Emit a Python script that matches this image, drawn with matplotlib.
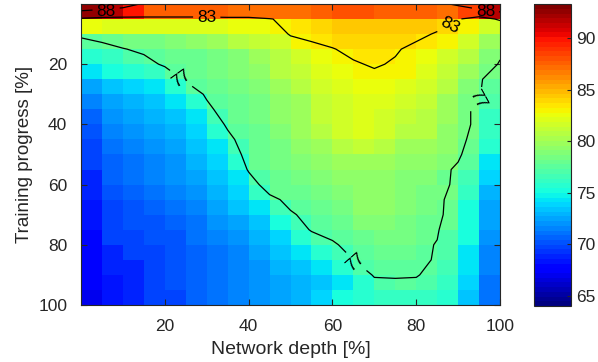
import numpy as np
import matplotlib
matplotlib.use("Agg")
import matplotlib.pyplot as plt

plt.rcParams["font.family"] = ["Liberation Sans", "DejaVu Sans"]

# grid vertices
depth = np.arange(0, 101, 5)      # network depth [%]
progress = np.arange(0, 101, 5)   # training progress [%]

# accuracy, one list per training-progress row (depth 0..100)
row_00 = [92.5, 91.5, 90, 87.5, 87.5, 87.5, 87.5, 87, 87, 87, 87, 87.5, 87.9, 87.9, 87.5, 87.5, 87.5, 87.2, 88.6, 91.5, 93]
row_05 = [82.5, 82, 82, 82.3, 82.3, 82.3, 82.3, 82.5, 82.5, 82.9, 83.5, 84, 84.5, 84.5, 84.5, 84.5, 84.5, 84, 83.2, 81.5, 83.5]
row_10 = [77.5, 78, 78.5, 78.5, 79, 79.5, 80, 80.5, 81, 81.5, 83.2, 83.5, 84, 84, 84, 84, 83.5, 82.8, 81.5, 80, 78.5]
row_15 = [75.5, 76.2, 76.9, 77.4, 77.8, 78, 78.5, 79, 80, 80.5, 81.5, 82.5, 82.9, 83.5, 83.5, 83.2, 82.5, 81.5, 80.5, 79, 77.5]
row_20 = [74.5, 75, 75.5, 76.3, 77.3, 78, 78.5, 79, 79.5, 80.5, 81, 82, 82.5, 82.8, 83.2, 82.8, 82, 81, 80, 78.5, 76.8]
row_25 = [72.5, 73.5, 74, 74.5, 75.5, 77.3, 78, 78.5, 79, 80, 80.5, 81.5, 82, 82.5, 82.5, 82, 81.5, 80.5, 79, 77.3, 75.5]
row_30 = [71.5, 72.5, 73, 73.5, 74.5, 75.5, 77.3, 78, 78.5, 79.5, 80, 81, 81.5, 82, 82, 81.5, 81, 80, 78.5, 77.2, 74.5]
row_35 = [70.5, 72, 72.5, 73, 73.5, 74.5, 76.5, 78, 78.5, 79.5, 80, 81, 81.5, 82, 81.5, 81, 80.5, 80, 78.5, 76, 74]
row_40 = [70, 71.5, 72, 72.5, 73, 74, 75.5, 77.3, 78, 79, 80, 80.5, 81.5, 82, 81.5, 80.5, 80.5, 79.5, 78.5, 76, 73.5]
row_45 = [69.5, 71, 71.5, 72, 72.5, 73.5, 74.5, 76.5, 78, 78.5, 79.5, 80, 80.5, 81, 80.5, 80, 80, 79.5, 78, 75.5, 73]
row_50 = [69.5, 70.5, 71, 71.5, 72, 73, 74, 75.5, 77.8, 78.5, 79, 79.5, 80, 80, 80, 79.5, 79.5, 79, 77.5, 74.5, 72.5]
row_55 = [69, 70.5, 71, 71.5, 72, 72.5, 73.5, 74.5, 77.2, 78, 78.5, 79, 79.5, 79.5, 79.5, 79, 79, 78, 76.5, 74, 72]
row_60 = [69, 70, 70.5, 71, 71.5, 72, 73, 74, 76, 78, 78, 78.5, 79, 79.5, 79.5, 79, 78.5, 78.5, 76, 73, 71]
row_65 = [68.5, 69.5, 70, 70.5, 71, 71.5, 72.5, 73.5, 74.5, 76.5, 77.5, 78, 78.5, 79.5, 79.5, 79, 78.5, 78, 75, 72.5, 70.5]
row_70 = [68.5, 69.5, 70, 70, 70.5, 71, 72, 72.5, 73.5, 75, 76.8, 77.5, 78, 79, 79, 78.5, 78, 77.8, 75, 72.5, 70]
row_75 = [68, 69.5, 69.5, 70, 70, 71, 71.5, 72, 73, 74, 75.5, 77.2, 77.5, 78, 78.5, 78.5, 78, 77.2, 75, 72, 69.5]
row_80 = [68, 69, 69.5, 69.5, 70, 70.5, 71, 71.5, 72.5, 73.5, 74.5, 75.5, 76.8, 77.5, 78, 78, 77.5, 76.9, 74.5, 71.5, 69]
row_85 = [67.5, 69, 69, 69.5, 70, 70.5, 71, 71.5, 72, 73, 73.5, 74.5, 75.5, 77, 77.5, 77.5, 77.5, 76.8, 74.5, 71.5, 68.5]
row_90 = [67.5, 68.5, 69, 69.5, 70, 70.5, 71, 71.5, 72, 72.5, 73, 73.5, 74.5, 75.5, 77.2, 77.3, 77.2, 76, 74, 71, 68]
row_95 = [67, 68.5, 69, 69.5, 69.5, 70.5, 71, 71.5, 72, 72.5, 73, 74, 75, 75.5, 76, 76, 76, 75.5, 73.5, 71, 68]
row_100 = [67, 68, 68.5, 69, 69.5, 70, 70.5, 71, 71.5, 72, 72.5, 73.5, 74.5, 75.5, 76, 76, 76, 75, 73, 70.5, 67.5]

acc = np.array([row_00, row_05, row_10, row_15, row_20, row_25, row_30, row_35,
                row_40, row_45, row_50, row_55, row_60, row_65, row_70, row_75,
                row_80, row_85, row_90, row_95, row_100])

levels = [77, 83, 88]
label_spots = [(6, 2.0), (96.5, 2.2), (30, 4.3), (89, 10.0), (24, 24.5), (66, 85), (94.5, 31.7)]

fig = plt.figure(figsize=(5.98, 3.62), dpi=100)
ax = fig.add_axes([0.1355, 0.1575, 0.7007, 0.8315])

cmap = plt.get_cmap("jet", 64)
# cells coloured by their upper-left vertex, contours through the vertices
mesh = ax.pcolormesh(depth, progress, acc[:-1, :-1], cmap=cmap, vmin=64, vmax=93.3, shading="flat")
cs = ax.contour(depth, progress, acc, levels=levels, colors="k", linewidths=0.9)
labels = ax.clabel(cs, fmt="%d", fontsize=12.5, inline=True, inline_spacing=4, manual=label_spots)

# keep the labels along the top edge inside the frame
for t in labels:
    if t.get_text() == "88":
        x, y = t.get_position()
        t.set_position((x, 2.4))
        t.set_rotation(0)

ax.set_xlim(0, 100)
ax.set_ylim(100, 0)
ax.set_xticks([20, 40, 60, 80, 100])
ax.set_yticks([20, 40, 60, 80, 100])
ax.tick_params(direction="in", top=True, right=True, length=4, labelsize=12.5, colors="0.15")
ax.tick_params(axis="x", pad=10)
ax.tick_params(axis="y", pad=10)
for s in ax.spines.values():
    s.set_color("0.15")
ax.set_xlabel("Network depth [%]", fontsize=14, color="0.15", labelpad=5)
ax.set_ylabel("Training progress [%]", fontsize=13.5, color="0.15", labelpad=4)

cax = fig.add_axes([0.893, 0.1547, 0.0619, 0.834])
cb = fig.colorbar(mesh, cax=cax, ticks=[65, 70, 75, 80, 85, 90])
cb.ax.tick_params(direction="in", length=3, labelsize=12.5, colors="0.15", pad=4)
cb.outline.set_edgecolor("0.15")

fig.savefig("out.png", dpi=100)
